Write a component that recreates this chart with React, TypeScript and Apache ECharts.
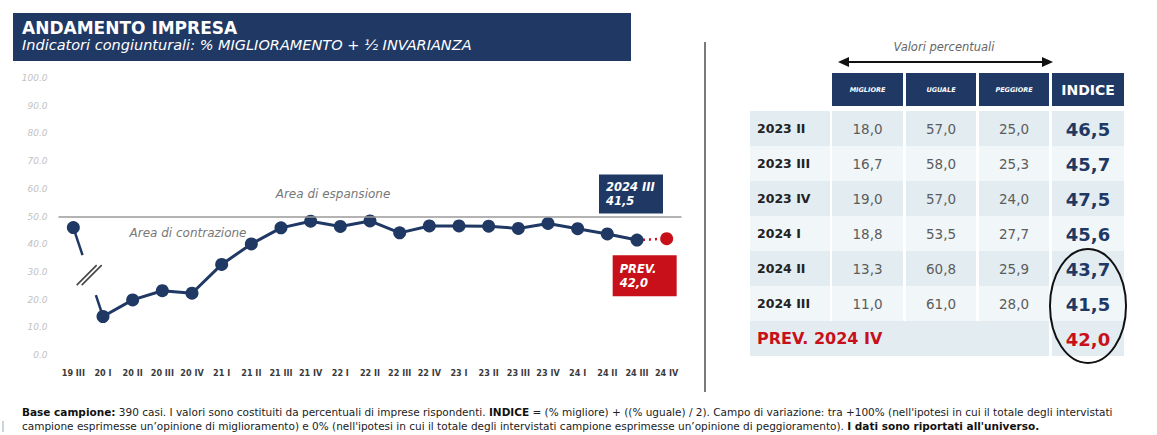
import React, { useEffect, useRef } from "react";
import * as echarts from "echarts";

const categories = ["19 III", "20 I", "20 II", "20 III", "20 IV", "21 I", "21 II", "21 III", "21 IV", "22 I", "22 II", "22 III", "22 IV", "23 I", "23 II", "23 III", "23 IV", "24 I", "24 II", "24 III", "24 IV"];
const preBreakValue = 46.0;
const indexValues = [13.9, 19.9, 23.2, 22.3, 32.7, 40.1, 45.9, 48.3, 46.4, 48.4, 44.1, 46.6, 46.6, 46.5, 45.7, 47.5, 45.6, 43.7, 41.5];
const forecastValue = 42.0;
const thresholdValue = 50;
const yTicks = [0, 10, 20, 30, 40, 50, 60, 70, 80, 90, 100];

const tableRows = ["2023 II", "2023 III", "2023 IV", "2024 I", "2024 II", "2024 III"];
const migliore = [18.0, 16.7, 19.0, 18.8, 13.3, 11.0];
const uguale = [57.0, 58.0, 57.0, 53.5, 60.8, 61.0];
const peggiore = [25.0, 25.3, 24.0, 27.7, 25.9, 28.0];
const indice = [46.5, 45.7, 47.5, 45.6, 43.7, 41.5];
const tableHeaders = ["MIGLIORE", "UGUALE", "PEGGIORE", "INDICE"];
const forecastLabel = "PREV. 2024 IV";

const NAVY = "#1f3864";
const RED = "#c8101a";
const FONT = "DejaVu Sans";

const fmt = (v: number) => v.toFixed(1).replace(".", ",");

function buildGraphic() {
  const g: any[] = [];
  // Header
  g.push({ type: "rect", shape: { x: 13, y: 13, width: 618, height: 48 }, style: { fill: NAVY } });
  g.push({ type: "text", x: 22, y: 28, style: { text: "ANDAMENTO IMPRESA", fill: "#fff", font: `bold 17px ${FONT}`, verticalAlign: "middle" } });
  g.push({ type: "text", x: 22, y: 45, style: { text: "Indicatori congiunturali: % MIGLIORAMENTO + ½ INVARIANZA", fill: "#fff", font: `italic 14.5px ${FONT}`, verticalAlign: "middle" } });
  // area labels
  g.push({ type: "text", x: 333, y: 194, style: { text: "Area di espansione", fill: "#777", font: `italic 12px ${FONT}`, align: "center", verticalAlign: "middle" } });
  g.push({ type: "text", x: 188, y: 233, style: { text: "Area di contrazione", fill: "#777", font: `italic 12px ${FONT}`, align: "center", verticalAlign: "middle" } });
  // separator
  g.push({ type: "line", shape: { x1: 705, y1: 42, x2: 705, y2: 392 }, style: { stroke: "#7a7a7a", lineWidth: 2 } });
  g.push({ type: "line", shape: { x1: 3, y1: 421, x2: 3, y2: 432 }, style: { stroke: "#b9c6d3", lineWidth: 1.5 } });

  // Table header area
  g.push({ type: "text", x: 944, y: 47, style: { text: "Valori percentuali", fill: "#666", font: `italic 11.5px ${FONT}`, align: "center", verticalAlign: "middle" } });
  g.push({ type: "line", shape: { x1: 846, y1: 62, x2: 1044, y2: 62 }, style: { stroke: "#111", lineWidth: 2 } });
  g.push({ type: "polygon", shape: { points: [[838, 62], [849, 57], [849, 67]] }, style: { fill: "#111" } });
  g.push({ type: "polygon", shape: { points: [[1053, 62], [1042, 57], [1042, 67]] }, style: { fill: "#111" } });

  const cols = [
    [832, 903],
    [906, 976],
    [979, 1049],
    [1052, 1124],
  ];
  const labelCol = [750, 830];
  tableHeaders.forEach((h, i) => {
    const [a, b] = cols[i];
    g.push({ type: "rect", shape: { x: a, y: 73, width: b - a, height: 33 }, style: { fill: NAVY } });
    const isIdx = i === 3;
    g.push({
      type: "text",
      x: (a + b) / 2,
      y: 90,
      style: { text: h, fill: "#fff", font: isIdx ? `bold 14px ${FONT}` : `italic bold 6.5px ${FONT}`, align: "center", verticalAlign: "middle" },
    });
  });

  const rowTop = 111;
  const rowH = 35;
  const allRows = tableRows.length + 1;
  for (let r = 0; r < allRows; r++) {
    const y = rowTop + r * rowH;
    const fill = r % 2 === 0 ? "#e3edf1" : "#f1f6f8";
    const cy = y + rowH / 2;
    if (r < tableRows.length) {
      g.push({ type: "rect", shape: { x: labelCol[0], y, width: labelCol[1] - labelCol[0], height: rowH }, style: { fill } });
      cols.forEach(([a, b]) => g.push({ type: "rect", shape: { x: a, y, width: b - a, height: rowH }, style: { fill } }));
      g.push({ type: "text", x: 757, y: cy, style: { text: tableRows[r], fill: "#222", font: `bold 12.5px ${FONT}`, verticalAlign: "middle" } });
      [migliore, uguale, peggiore].forEach((arr, c) => {
        const [a, b] = cols[c];
        g.push({ type: "text", x: (a + b) / 2, y: cy, style: { text: fmt(arr[r]), fill: "#5c5c5c", font: `13.5px ${FONT}`, align: "center", verticalAlign: "middle" } });
      });
      const [a, b] = cols[3];
      g.push({ type: "text", x: (a + b) / 2, y: cy + 1, style: { text: fmt(indice[r]), fill: NAVY, font: `bold 18px ${FONT}`, align: "center", verticalAlign: "middle" } });
    } else {
      g.push({ type: "rect", shape: { x: labelCol[0], y, width: cols[2][1] - labelCol[0], height: rowH }, style: { fill } });
      const [a, b] = cols[3];
      g.push({ type: "rect", shape: { x: a, y, width: b - a, height: rowH }, style: { fill } });
      g.push({ type: "text", x: 757, y: cy, style: { text: forecastLabel, fill: RED, font: `bold 16px ${FONT}`, verticalAlign: "middle" } });
      g.push({ type: "text", x: (a + b) / 2, y: cy + 1, style: { text: fmt(forecastValue), fill: RED, font: `bold 18px ${FONT}`, align: "center", verticalAlign: "middle" } });
    }
  }
  g.push({ type: "ellipse", shape: { cx: 1088, cy: 306, rx: 38, ry: 57 }, style: { fill: "none", stroke: "#111", lineWidth: 2 }, z: 10 });

  // Footer
  const richB = { b: { fontWeight: "bold", fontSize: 10.5, fontFamily: FONT, fill: "#111" } };
  g.push({
    type: "text",
    x: 22,
    y: 412,
    style: {
      text: "{b|Base campione:} 390 casi. I valori sono costituiti da percentuali di imprese rispondenti. {b|INDICE} = (% migliore) + ((% uguale) / 2). Campo di variazione: tra +100% (nell'ipotesi in cui il totale degli intervistati",
      fill: "#222",
      font: `10.5px ${FONT}`,
      verticalAlign: "middle",
      rich: richB,
    },
  });
  g.push({
    type: "text",
    x: 22,
    y: 426,
    style: {
      text: "campione esprimesse un’opinione di miglioramento) e 0% (nell'ipotesi in cui il totale degli intervistati campione esprimesse un’opinione di peggioramento). {b|I dati sono riportati all'universo.}",
      fill: "#222",
      font: `10.5px ${FONT}`,
      verticalAlign: "middle",
      rich: richB,
    },
  });
  return g;
}

export default function App() {
  const ref = useRef<HTMLDivElement>(null);
  useEffect(() => {
    if (!ref.current) return;
    const chart = echarts.init(ref.current, undefined, { renderer: "svg" });
    const n = categories.length;
    const firstData: any[] = new Array(n).fill(null);
    firstData[0] = preBreakValue;
    const mainData: any[] = new Array(n).fill(null);
    indexValues.forEach((v, i) => (mainData[i + 1] = v));
    const lastIdx = indexValues.length; // index of 24 III
    mainData[lastIdx] = {
      value: indexValues[indexValues.length - 1],
      label: {
        show: true,
        position: "inside",
        formatter: `${categories[lastIdx].replace("24", "2024")}\n${fmt(indexValues[indexValues.length - 1])}`,
        backgroundColor: NAVY,
        color: "#fff",
        fontFamily: FONT,
        fontWeight: "bold",
        fontStyle: "italic",
        fontSize: 11.5,
        lineHeight: 14,
        align: "left",
        verticalAlign: "middle",
        width: 50,
        padding: [6, 7, 5, 7],
        offset: [-38, -46],
      },
    };
    const fcData: any[] = new Array(n).fill(null);
    fcData[lastIdx] = { value: indexValues[indexValues.length - 1], symbol: "none" };
    fcData[n - 1] = {
      value: forecastValue,
      label: {
        show: true,
        position: "inside",
        formatter: `PREV.\n${fmt(forecastValue)}`,
        backgroundColor: RED,
        color: "#fff",
        fontFamily: FONT,
        fontWeight: "bold",
        fontStyle: "italic",
        fontSize: 11.5,
        lineHeight: 14,
        align: "left",
        verticalAlign: "middle",
        width: 50,
        padding: [7, 7, 6, 7],
        offset: [-54, 37],
      },
    };

    const option: any = {
      animation: false,
      backgroundColor: "#fff",
      grid: { left: 58.5, right: 1157 - 681.5, top: 78, bottom: 80, containLabel: false },
      xAxis: {
        type: "category",
        data: categories,
        boundaryGap: true,
        axisLine: { show: false },
        axisTick: { show: false },
        axisLabel: { interval: 0, fontSize: 9, color: "#3a3a3a", fontFamily: "DejaVu Sans Condensed", fontWeight: "bold", margin: 13 },
      },
      yAxis: {
        type: "value",
        min: yTicks[0],
        max: yTicks[yTicks.length - 1],
        interval: 10,
        splitLine: { show: false },
        axisLine: { show: false },
        axisTick: { show: false },
        axisLabel: { formatter: (v: number) => v.toFixed(1), color: "#c2c2c2", fontStyle: "italic", fontSize: 9, fontFamily: FONT, margin: 11 },
      },
      series: [
        {
          type: "line",
          data: firstData,
          symbol: "circle",
          symbolSize: 13,
          itemStyle: { color: NAVY },
          z: 4,
          silent: true,
        },
        {
          type: "line",
          data: mainData,
          symbol: "circle",
          symbolSize: 13,
          connectNulls: false,
          lineStyle: { color: NAVY, width: 3 },
          itemStyle: { color: NAVY },
          z: 4,
          silent: true,
          markLine: {
            silent: true,
            symbol: "none",
            label: { show: false },
            lineStyle: { color: "#9a9a9a", width: 1.5, type: "solid" },
            data: [{ yAxis: thresholdValue }],
          },
        },
        {
          type: "line",
          data: fcData,
          symbol: "circle",
          symbolSize: 13,
          lineStyle: { color: RED, width: 2.5, type: [2, 4] },
          itemStyle: { color: RED },
          z: 3,
          silent: true,
        },
        {
          type: "custom",
          silent: true,
          z: 2,
          data: [[0, preBreakValue, 1, indexValues[0]]],
          renderItem: (params: any, api: any) => {
            const a = api.coord([api.value(0), api.value(1)]);
            const b = api.coord([api.value(2), api.value(3)]);
            const at = (t: number) => [a[0] + (b[0] - a[0]) * t, a[1] + (b[1] - a[1]) * t];
            const s1 = at(0.31);
            const s2 = at(0.76);
            const c = at(0.535);
            const mk = (dx: number) => ({
              type: "line",
              shape: { x1: c[0] - 10 + dx, y1: c[1] + 10, x2: c[0] + 10 + dx, y2: c[1] - 10 },
              style: { stroke: "#444", lineWidth: 1.6 },
            });
            return {
              type: "group",
              children: [
                { type: "line", shape: { x1: a[0], y1: a[1], x2: s1[0], y2: s1[1] }, style: { stroke: NAVY, lineWidth: 2.5 } },
                { type: "line", shape: { x1: s2[0], y1: s2[1], x2: b[0], y2: b[1] }, style: { stroke: NAVY, lineWidth: 2.5 } },
                mk(-2.5),
                mk(2.5),
              ],
            };
          },
        },
      ],
      graphic: buildGraphic(),
    };
    chart.setOption(option);
    return () => chart.dispose();
  }, []);
  return <div ref={ref} style={{ position: "fixed", left: 0, top: 0, width: 1157, height: 435, background: "#fff" }} />;
}
